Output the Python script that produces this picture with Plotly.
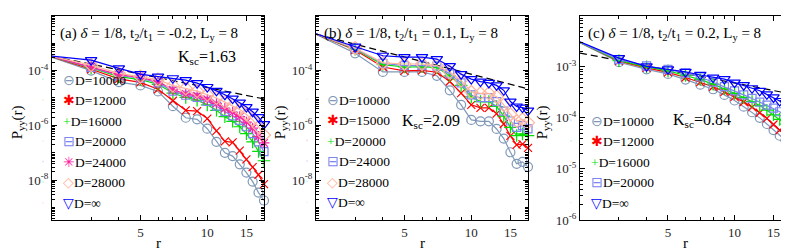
import numpy as np
import plotly.graph_objects as go

# ---------------- data (log10 of P_yy(r)) ----------------
r = list(range(2, 19))

# panel (a): delta=1/8, t2/t1=-0.2
a_names = ["D=10000", "D=12000", "D=16000", "D=20000", "D=24000", "D=28000", "D=∞"]
a_D10000 = [-3.52, -4.00, -4.42, -4.54, -4.76, -5.30, -5.72, -5.78, -6.12, -6.60, -7.00, -7.12, -7.42, -7.72, -8.05, -8.45, -8.74]
a_D12000 = [-3.50, -3.95, -4.30, -4.43, -4.68, -5.10, -5.45, -5.48, -5.75, -6.20, -6.58, -6.62, -6.92, -7.24, -7.52, -7.80, -8.14]
a_D16000 = [-3.50, -3.90, -4.22, -4.33, -4.50, -4.82, -4.98, -5.08, -5.25, -5.45, -5.68, -5.85, -6.05, -6.30, -6.60, -6.95, -7.29]
a_D20000 = [-3.49, -3.88, -4.18, -4.28, -4.45, -4.75, -4.90, -4.98, -5.12, -5.30, -5.50, -5.65, -5.82, -6.05, -6.30, -6.60, -6.96]
a_D24000 = [-3.49, -3.86, -4.15, -4.25, -4.40, -4.70, -4.85, -4.92, -5.05, -5.20, -5.38, -5.52, -5.68, -5.88, -6.10, -6.40, -6.64]
a_D28000 = [-3.48, -3.80, -4.10, -4.22, -4.33, -4.55, -4.65, -4.75, -4.88, -5.00, -5.15, -5.28, -5.42, -5.60, -5.80, -6.05, -6.35]
a_Dinf   = [-3.47, -3.62, -3.92, -4.13, -4.22, -4.28, -4.35, -4.46, -4.60, -4.74, -4.88, -5.02, -5.17, -5.33, -5.50, -5.70, -5.95]
a_Ksc = 1.63
a_fit_start = -3.48

# panel (b): delta=1/8, t2/t1=0.1
b_names = ["D=10000", "D=15000", "D=20000", "D=24000", "D=28000", "D=∞"]
b_D10000 = [-2.68, -3.37, -4.05, -4.05, -4.05, -4.19, -4.72, -5.25, -5.80, -5.85, -5.85, -6.13, -6.48, -6.98, -7.40, -7.33, -7.51]
b_D15000 = [-2.67, -3.25, -3.87, -4.01, -3.99, -4.06, -4.40, -4.82, -5.25, -5.36, -5.36, -5.57, -5.95, -6.38, -6.71, -6.68, -6.82]
b_D20000 = [-2.66, -3.22, -3.78, -3.87, -3.86, -3.89, -4.19, -4.54, -4.96, -5.13, -5.13, -5.31, -5.66, -6.07, -6.37, -6.31, -6.37]
b_D24000 = [-2.66, -3.20, -3.74, -3.82, -3.82, -3.84, -4.12, -4.45, -4.89, -4.99, -4.99, -5.13, -5.48, -5.84, -6.07, -6.01, -6.13]
b_D28000 = [-2.66, -3.18, -3.72, -3.76, -3.76, -3.82, -4.05, -4.36, -4.78, -4.83, -4.83, -4.95, -5.25, -5.60, -5.84, -5.78, -5.90]
b_Dinf   = [-2.66, -3.13, -3.46, -3.51, -3.51, -3.58, -3.84, -4.13, -4.31, -4.40, -4.45, -4.54, -4.72, -5.13, -5.31, -5.35, -5.46]
b_Ksc = 2.09
b_fit_start = -2.67

# panel (c): delta=1/8, t2/t1=0.2
c_names = ["D=10000", "D=12000", "D=16000", "D=20000", "D=∞"]
c_D10000 = [-2.53, -2.91, -3.05, -3.14, -3.25, -3.35, -3.44, -3.55, -3.66, -3.78, -3.89, -4.00, -4.12, -4.24, -4.35, -4.44, -4.53]
c_D12000 = [-2.52, -2.89, -3.02, -3.11, -3.21, -3.30, -3.39, -3.49, -3.59, -3.69, -3.79, -3.90, -4.01, -4.13, -4.24, -4.31, -4.41]
c_D16000 = [-2.52, -2.88, -3.00, -3.08, -3.17, -3.25, -3.34, -3.43, -3.52, -3.60, -3.68, -3.76, -3.85, -3.94, -4.03, -4.12, -4.22]
c_D20000 = [-2.52, -2.86, -2.98, -3.05, -3.12, -3.20, -3.30, -3.39, -3.47, -3.55, -3.62, -3.69, -3.75, -3.81, -3.88, -3.96, -4.04]
c_Dinf   = [-2.51, -2.83, -2.99, -3.05, -3.10, -3.16, -3.21, -3.24, -3.31, -3.36, -3.42, -3.47, -3.54, -3.60, -3.67, -3.71, -3.77]
c_Ksc = 0.84
c_fit_start = -2.73

x_tick_vals = [5, 10, 15]

# ---------------- styling ----------------
FONT = "Liberation Serif"
W, H = 789, 250
STY = {
    "c":  dict(symbol="circle-open", color="#7f98b8", size=9, glyph="⊖"),
    "x":  dict(symbol="x-thin-open", color="#ff0000", size=8, glyph="✱"),
    "p":  dict(symbol="cross-thin-open", color="#00e000", size=9, glyph="+"),
    "s":  dict(symbol="square-open", color="#7b86f0", size=8, glyph="⊟"),
    "st": dict(symbol="asterisk-open", color="#ff20a0", size=9, glyph="✳"),
    "d":  dict(symbol="diamond-open", color="#ffb59c", size=10, glyph="◇"),
    "t":  dict(symbol="triangle-down-open", color="#0000ff", size=10, glyph="▽"),
}

panels = [
    dict(ax="", leg="legend", Ksc=a_Ksc, fit0=a_fit_start, yr=[-9.45, -2],
         ylab=[-8, -6, -4, -2],
         series=list(zip(a_names, [a_D10000, a_D12000, a_D16000, a_D20000, a_D24000, a_D28000, a_Dinf],
                         ["c", "x", "p", "s", "st", "d", "t"]))),
    dict(ax="2", leg="legend2", Ksc=b_Ksc, fit0=b_fit_start, yr=[-9.45, -2],
         ylab=[-8, -6, -4, -2],
         series=list(zip(b_names, [b_D10000, b_D15000, b_D20000, b_D24000, b_D28000, b_Dinf],
                         ["c", "x", "p", "s", "d", "t"]))),
    dict(ax="3", leg="legend3", Ksc=c_Ksc, fit0=c_fit_start, yr=[-6, -2],
         ylab=[-6, -5, -4, -3, -2],
         series=list(zip(c_names, [c_D10000, c_D12000, c_D16000, c_D20000, c_Dinf],
                         ["c", "x", "p", "s", "t"]))),
]

x_px = [(44, 256), (308, 520), (572, 783)]
y_dom = [31 / H, 242 / H]

fig = go.Figure()
for i, p in enumerate(panels):
    xa, ya = "x" + p["ax"], "y" + p["ax"]
    # power-law fit r^-Ksc (dashed)
    rr = np.array([r[0], r[-1]], dtype=float)
    fit = 10 ** p["fit0"] * (rr / r[0]) ** (-p["Ksc"])
    fig.add_trace(go.Scatter(x=rr, y=fit, mode="lines", xaxis=xa, yaxis=ya,
                             line=dict(color="black", width=1.2, dash="7px,4px"),
                             showlegend=False, hoverinfo="skip"))
    for name, vals, k in p["series"]:
        s = STY[k]
        mk = dict(symbol=s["symbol"], size=s["size"], color=s["color"],
                  line=dict(color=s["color"], width=1.2))
        fig.add_trace(go.Scatter(x=r, y=10 ** np.array(vals), mode="lines+markers",
                                 xaxis=xa, yaxis=ya, line=dict(color=s["color"], width=1.2),
                                 marker=mk, cliponaxis=False, showlegend=False))
        # legend entry: coloured symbol glyph right before the label (as in the reference)
        label = '<span style="color:%s">%s</span>%s' % (s["color"], s["glyph"], name)
        fig.add_trace(go.Scatter(x=[None], y=[None], mode="markers", xaxis=xa, yaxis=ya,
                                 marker=dict(size=1, opacity=0), name=label,
                                 legend=p["leg"], showlegend=True))

    x0, x1 = x_px[i]
    minor_y = [m * 10.0 ** d for d in range(-10, -1) for m in range(1, 10)]
    fig.layout["xaxis" + p["ax"]] = dict(
        type="log", range=[np.log10(r[0]), np.log10(r[-1])], domain=[x0 / W, x1 / W],
        anchor=ya, tickmode="array", tickvals=x_tick_vals, ticktext=[str(v) for v in x_tick_vals],
        ticks="inside", ticklen=5, tickcolor="black", showline=True, linecolor="black",
        linewidth=1, mirror="allticks", showgrid=False, zeroline=False,
        tickfont=dict(family=FONT, size=13, color="#262626"),
        minor=dict(tickmode="array", tickvals=[3, 4, 6, 7, 8, 9], ticks="inside", ticklen=3,
                   tickcolor="black", showgrid=False),
    )
    fig.layout["yaxis" + p["ax"]] = dict(
        type="log", range=p["yr"], domain=y_dom, anchor=xa,
        tickmode="array", tickvals=[10.0 ** e for e in p["ylab"]],
        ticktext=["10<sup>%d</sup>" % e for e in p["ylab"]],
        ticks="inside", ticklen=5, tickcolor="black", showline=True, linecolor="black",
        linewidth=1, mirror="allticks", showgrid=False, zeroline=False,
        tickfont=dict(family=FONT, size=13, color="#262626"),
        minor=dict(tickmode="array", tickvals=minor_y, ticks="inside", ticklen=3,
                   tickcolor="black", showgrid=False),
    )
    fig.layout[p["leg"]] = dict(x=(x0 - 29) / W, y=(H - 217) / H, xanchor="left", yanchor="bottom",
                                bgcolor="rgba(0,0,0,0)", borderwidth=0, itemwidth=30,
                                tracegroupgap=0, font=dict(family=FONT, size=13.5, color="black"))

# texts
titles = [
    ("(a) <i>δ</i> = 1/8, t<sub>2</sub>/t<sub>1</sub> = -0.2, L<sub>y</sub> = 8", 50),
    ("(b) <i>δ</i> = 1/8, t<sub>2</sub>/t<sub>1</sub> = 0.1, L<sub>y</sub> = 8", 314),
    ("(c) <i>δ</i> = 1/8, t<sub>2</sub>/t<sub>1</sub> = 0.2, L<sub>y</sub> = 8", 578),
]
ann = []
for t, xp in titles:
    ann.append(dict(text=t, x=xp / W, y=(H - 27) / H, xref="paper", yref="paper",
                    xanchor="left", yanchor="middle", showarrow=False,
                    font=dict(family=FONT, size=15, color="black")))
ksc_pos = [(168, 51), (392, 117), (663, 116)]
for p, (xp, yp) in zip(panels, ksc_pos):
    ann.append(dict(text="K<sub>sc</sub>=%.2f" % p["Ksc"], x=xp / W, y=(H - yp) / H,
                    xref="paper", yref="paper", xanchor="left", yanchor="middle",
                    showarrow=False, font=dict(family=FONT, size=16, color="black")))
for xp in [10, 273, 535]:
    ann.append(dict(text="P<sub>yy</sub>(r)", x=xp / W, y=(H - 118) / H, xref="paper", yref="paper",
                    xanchor="center", yanchor="middle", textangle=-90, showarrow=False,
                    font=dict(family=FONT, size=15, color="black")))
for (x0, x1) in x_px:
    ann.append(dict(text="r", x=(x0 + x1) / 2 / W, y=(H - 243) / H, xref="paper", yref="paper",
                    xanchor="center", yanchor="middle", showarrow=False,
                    font=dict(family=FONT, size=15, color="black")))

fig.update_layout(width=W, height=H, autosize=False, margin=dict(l=0, r=0, t=0, b=0),
                  paper_bgcolor="white", plot_bgcolor="white", annotations=ann,
                  font=dict(family=FONT))
fig.write_html("out.html")
